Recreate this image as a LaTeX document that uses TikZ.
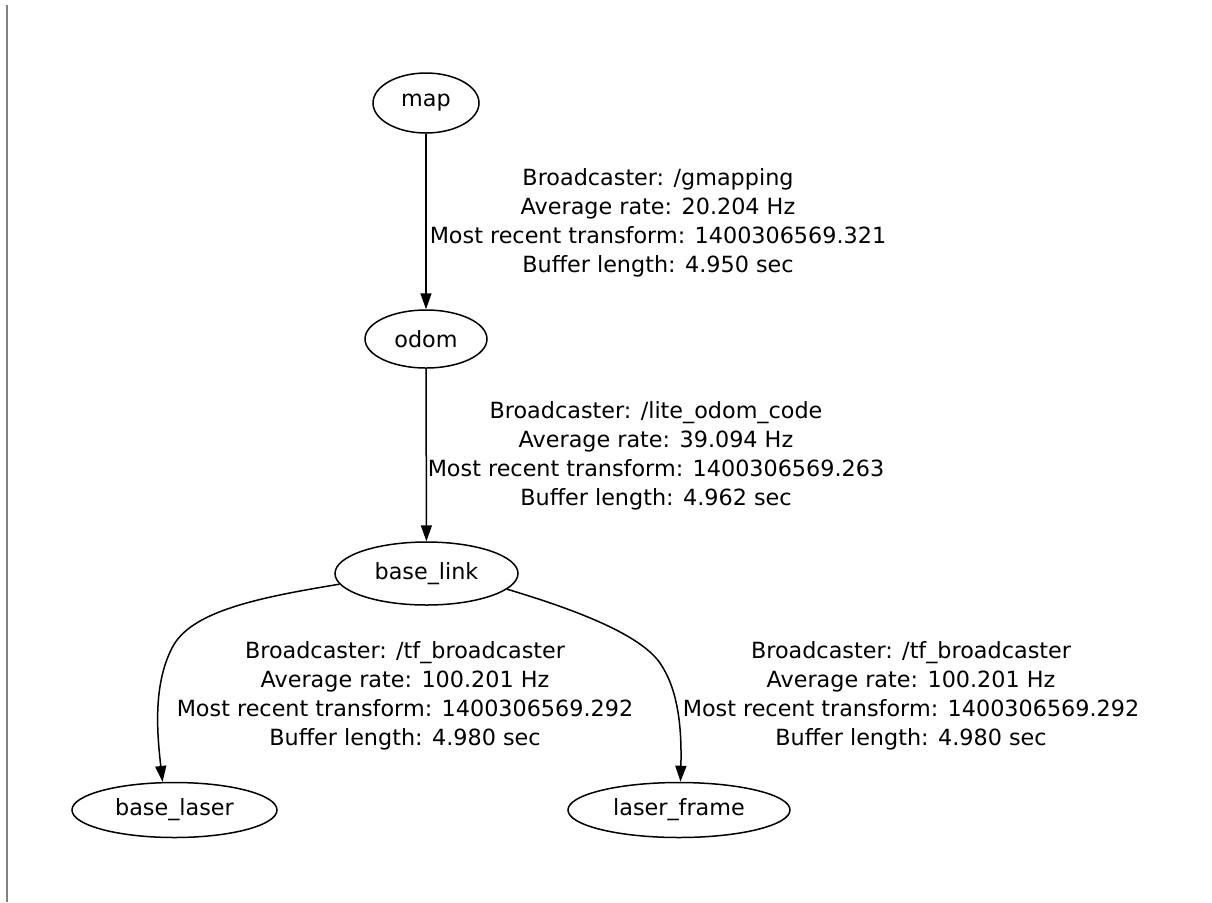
\documentclass[tikz,border=0pt]{standalone}
\usepackage{fontspec}
\setmainfont{DejaVu Sans}
\usetikzlibrary{arrows.meta,shapes.geometric}

\begin{document}
\begin{tikzpicture}[x=0.5pt,y=-0.5pt,
  >={Triangle[length=8pt,width=5.5pt]}, font=\fontsize{11.15}{14.4}\selectfont,
  frame/.style={draw,ellipse,inner sep=0pt,line width=0.75pt,minimum height=29pt},
  lbl/.style={align=center,inner sep=0pt},
  ar/.style={->,line width=0.75pt}
]
\useasboundingbox (0,0) rectangle (1212,902);
% window edge on the left
\draw[black!50,line width=1pt] (7,5) -- (7,902);
% tf frames
\node[frame,minimum width=53pt,minimum height=30pt] (map) at (426,103) {map};
\node[frame,minimum width=61pt] (odom) at (426,339) {odom};
\node[frame,minimum width=91.5pt,minimum height=31.5pt] (base_link) at (426.5,573.5) {base\_link};
\node[frame,minimum width=102.5pt,minimum height=27.5pt] (base_laser) at (174.5,810) {base\_laser};
\node[frame,minimum width=111pt,minimum height=27.5pt] (laser_frame) at (679,810) {laser\_frame};
% transforms
\draw[ar] (map) -- (odom);
\draw[ar] (odom) -- (base_link);
\draw[ar] (base_link.187) .. controls (255,598) and (190,612) .. (172,648)
  .. controls (153,685) and (157,733) .. (base_laser.113);
\draw[ar] (base_link.-11) .. controls (556,604) and (637,630) .. (660,663)
  .. controls (677,688) and (682,723) .. (laser_frame.87);
% edge labels
\node[lbl] (tf1) at (658,223) {Broadcaster: /gmapping\\Average rate: 20.204 Hz\\Most recent transform: 1400306569.321\\Buffer length: 4.950 sec};
\node[lbl] (tf2) at (656,456) {Broadcaster: /lite\_odom\_code\\Average rate: 39.094 Hz\\Most recent transform: 1400306569.263\\Buffer length: 4.962 sec};
\node[lbl] (tf3) at (405,696) {Broadcaster: /tf\_broadcaster\\Average rate: 100.201 Hz\\Most recent transform: 1400306569.292\\Buffer length: 4.980 sec};
\node[lbl] (tf4) at (911,696) {Broadcaster: /tf\_broadcaster\\Average rate: 100.201 Hz\\Most recent transform: 1400306569.292\\Buffer length: 4.980 sec};
\end{tikzpicture}
\end{document}
